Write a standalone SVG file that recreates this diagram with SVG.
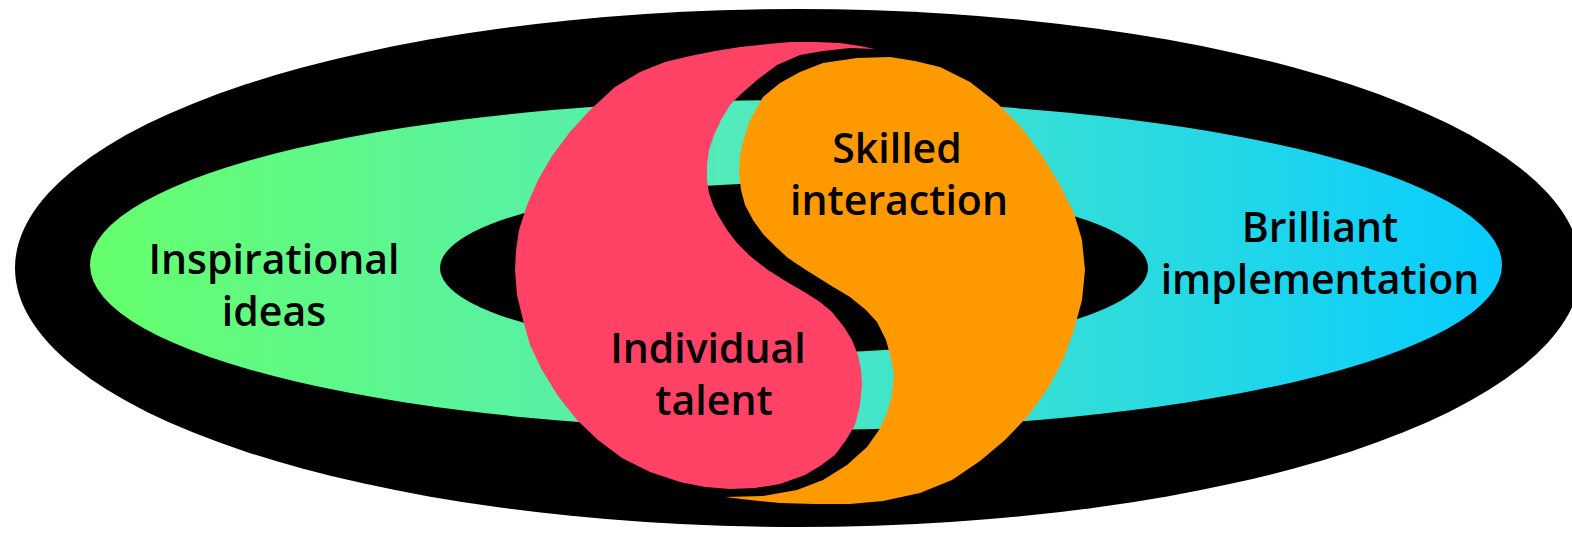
<svg xmlns="http://www.w3.org/2000/svg" width="1572" height="535" viewBox="0 0 1572 535">
<defs>
<linearGradient id="ringGrad" gradientUnits="userSpaceOnUse" x1="90" y1="0" x2="1502" y2="0">
<stop offset="0" stop-color="#66FF6C"/>
<stop offset="0.45" stop-color="#52EBBA"/>
<stop offset="1" stop-color="#08CCFF"/>
</linearGradient>
<style>
.lbl{font-family:"Open Sans","Liberation Sans",Arial,sans-serif;font-weight:600;font-size:41px;fill:#000;text-anchor:middle}
</style>
</defs>
<rect width="1572" height="535" fill="#fff"/>
<g id="outer-ring">
<ellipse cx="798" cy="268" rx="783" ry="259" fill="#000"/>
<ellipse cx="796" cy="265" rx="706" ry="165" fill="url(#ringGrad)"/>
<ellipse cx="794" cy="268" rx="354" ry="85" fill="#000"/>
</g>
<g id="connectors"></g>
<g id="inspirational-ideas">
<text class="lbl" x="274" y="274">Inspirational</text>
<text class="lbl" x="274" y="326">ideas</text>
</g>
<g id="brilliant-implementation">
<text class="lbl" x="1320" y="242">Brilliant</text>
<text class="lbl" x="1320" y="294">implementation</text>
</g>
<g id="individual-talent">
<polygon fill="#FF4266" points="875,49 850,48 823,51 800,55 777,65 757,80 740,95 730,105 721,120 714,135 709,150 707,165 707,180 709,193 713,205 718,215 727,230 737,243 750,256 768,270 787,282 806,293 820,302 832,312 844,327 852,340 858,355 861,370 862,385 860,405 855,425 846,440 835,455 820,466 805,475 780,484 755,488 730,489 705,487 680,482 650,472 622,458 598,440 577,420 558,396 542,370 530,345 523,320 517,295 515,270 516,250 519,230 527,205 538,180 552,156 569,133 590,110 615,87 640,72 665,62 690,56 715,51 740,47 768,44 790,42 815,42 840,43 860,46"/>
<text class="lbl" x="708" y="363">Individual</text>
<text class="lbl" x="714" y="415">talent</text>
</g>
<g id="skilled-interaction">
<polygon fill="#FF9900" points="725,497 763,496 797,490 823,480 847,465 867,447 879,430 887,413 892,395 894,375 891,358 886,340 877,322 866,310 850,297 830,285 806,270 788,258 776,247 763,234 753,220 745,205 741,190 739,172 740,155 744,138 750,120 763,97 780,83 800,72 823,63 857,58 890,57 915,61 940,67 970,82 997,103 1022,128 1043,157 1060,185 1074,213 1082,240 1085,270 1082,300 1074,330 1063,360 1047,390 1028,416 1005,440 980,461 952,480 920,493 883,501 850,504 815,504 780,503 750,500"/>
<text class="lbl" x="897" y="163">Skilled</text>
<text class="lbl" x="899" y="215">interaction</text>
</g>
</svg>
